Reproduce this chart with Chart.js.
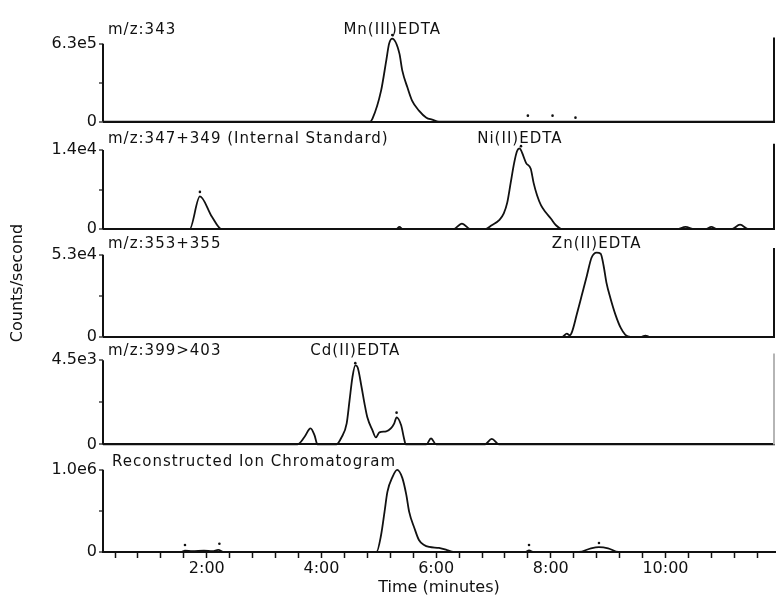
<!DOCTYPE html>
<html>
<head>
<meta charset="utf-8">
<title>Metal-EDTA ion chromatograms</title>
<script src="https://cdn.jsdelivr.net/npm/chart.js@4.4.1/dist/chart.umd.min.js"></script>
<style>
    html, body { margin: 0; padding: 0; background: #fff; }
    #wrap { width: 779px; height: 600px; }
</style>
</head>
<body>
<div id="wrap"><canvas id="chrom_canvas" width="779" height="600"></canvas></div>
<script>
// retention time (min) and intensity (counts/s) for each extracted ion trace
const mnTime = [0.19, 4.85, 4.89, 5.04, 5.13, 5.18, 5.235, 5.36, 5.41, 5.50, 5.58, 5.70, 5.83, 5.93, 6.05, 11.91]
const mnCounts = [0, 0, 2.4e4, 2.5e5, 4.93e5, 6.3e5, 6.7e5, 5.49e5, 4.12e5, 2.75e5, 1.7e5, 8.9e4, 3.2e4, 1.6e4, 0, 0]

const niTime = [0.19, 1.70, 1.88, 2.09, 2.26, 5.30, 5.36, 5.42, 6.30, 6.45, 6.60, 6.85, 6.97, 7.10, 7.18, 7.24, 7.30, 7.36, 7.41, 7.46, 7.50, 7.57, 7.65, 7.70, 7.76, 7.83, 7.91, 8.00, 8.09, 8.20, 10.20, 10.35, 10.50, 10.70, 10.80, 10.90, 11.15, 11.30, 11.45, 11.91]
const niCounts = [0, 0, 5.8e3, 2.2e3, 0, 0, 400, 0, 0, 1.0e3, 0, 0, 700, 1.6e3, 2.8e3, 4.7e3, 8.2e3, 1.17e4, 1.38e4, 1.43e4, 1.35e4, 1.17e4, 1.07e4, 8.2e3, 6.0e3, 4.2e3, 3.0e3, 1.9e3, 700, 0, 0, 400, 0, 0, 400, 0, 0, 800, 0, 0]

const znTime = [0.19, 8.20, 8.28, 8.33, 8.37, 8.45, 8.54, 8.63, 8.71, 8.80, 8.87, 8.92, 8.97, 9.04, 9.13, 9.22, 9.30, 9.39, 9.58, 9.65, 9.72, 11.91]
const znCounts = [0, 0, 2.0e3, 1.0e3, 3.2e3, 1.4e4, 2.68e4, 3.96e4, 5.1e4, 5.43e4, 5.36e4, 4.6e4, 3.5e4, 2.49e4, 1.4e4, 5.7e3, 1.3e3, 0, 0, 800, 0, 0]

const cdTime = [0.19, 3.58, 3.70, 3.81, 3.88, 3.93, 4.26, 4.35, 4.44, 4.49, 4.54, 4.59, 4.63, 4.70, 4.75, 4.80, 4.89, 4.95, 5.01, 5.13, 5.21, 5.27, 5.31, 5.39, 5.44, 5.47, 5.83, 5.91, 6.00, 6.85, 6.97, 7.10, 11.91]
const cdCounts = [0, 0, 380, 860, 480, 0, 0, 380, 1130, 2360, 3590, 4230, 4130, 3060, 2200, 1450, 750, 375, 640, 700, 860, 1130, 1450, 1020, 320, 0, 0, 320, 0, 0, 300, 0, 0]

const ricTime = [0.19, 1.55, 1.62, 1.75, 1.95, 2.10, 2.20, 2.30, 4.96, 5.04, 5.10, 5.15, 5.24, 5.32, 5.41, 5.48, 5.53, 5.62, 5.70, 5.79, 5.88, 6.05, 6.19, 6.30, 7.55, 7.62, 7.70, 8.49, 8.70, 8.84, 9.00, 9.18, 11.91]
const ricCounts = [0, 0, 1.5e4, 1.0e4, 1.5e4, 1.0e4, 2.5e4, 0, 0, 2.07e5, 4.88e5, 7.32e5, 9.15e5, 1.0e6, 9.02e5, 6.95e5, 4.88e5, 2.93e5, 1.46e5, 8.5e4, 6.1e4, 4.9e4, 2.4e4, 0, 0, 2.0e4, 0, 0, 4.5e4, 6.0e4, 4.5e4, 0, 0]

// apex markers put down by the acquisition software
const mnMarkTime = [5.235, 7.60, 8.03, 8.43]
const mnMarkCounts = [7.0e5, 4.8e4, 4.8e4, 3.2e4]
const niMarkTime = [1.88, 7.48]
const niMarkCounts = [6.6e3, 1.47e4]
const cdMarkTime = [4.59, 5.31]
const cdMarkCounts = [4.35e3, 1.7e3]
const ricMarkTime = [1.62, 2.22, 7.62, 8.84]
const ricMarkCounts = [8.5e4, 1.0e5, 8.5e4, 1.1e5]

const channelLabels = ['m/z:343', 'm/z:347+349 (Internal Standard)', 'm/z:353+355', 'm/z:399>403', 'Reconstructed Ion Chromatogram']
const fullScale = [6.3e5, 1.4e4, 5.3e4, 4.5e3, 1.0e6]
const fullScaleLabels = ['6.3e5', '1.4e4', '5.3e4', '4.5e3', '1.0e6']
const peakNames = ['Mn(III)EDTA', 'Ni(II)EDTA', 'Zn(II)EDTA', 'Cd(II)EDTA', '']
const peakTimes = [5.235, 7.46, 8.80, 4.59, null]

// room above the full-scale tick for the channel captions, and caption lift in px
const headroom = [1.38, 1.36, 1.31, 1.28, 1.31]
const captionLift = [10, 7, 7, 5, 4]

const minuteTicks = []
for (let k = 1; k <= 29; k++) minuteTicks.push(Math.round(k * 0.4 * 10) / 10)

const traces = [
    { time: mnTime, counts: mnCounts, markTime: mnMarkTime, markCounts: mnMarkCounts },
    { time: niTime, counts: niCounts, markTime: niMarkTime, markCounts: niMarkCounts },
    { time: znTime, counts: znCounts, markTime: [], markCounts: [] },
    { time: cdTime, counts: cdCounts, markTime: cdMarkTime, markCounts: cdMarkCounts },
    { time: ricTime, counts: ricCounts, markTime: ricMarkTime, markCounts: ricMarkCounts },
]

const INK = '#111'
Chart.defaults.font.family = '"DejaVu Sans", sans-serif'
Chart.defaults.font.size = 16
Chart.defaults.color = INK

const datasets = []
traces.forEach((tr, i) => {
    datasets.push({
        type: 'line',
        data: tr.time.map((t, j) => ({ x: t, y: tr.counts[j] })),
        yAxisID: 'y' + (i + 1),
        borderColor: INK, borderWidth: 1.8,
        pointRadius: 0, cubicInterpolationMode: 'monotone',
        clip: false
    })
    datasets.push({
        type: 'scatter',
        data: tr.markTime.map((t, j) => ({ x: t, y: tr.markCounts[j] })),
        yAxisID: 'y' + (i + 1),
        backgroundColor: INK, borderColor: INK,
        pointRadius: 1.3, pointBorderWidth: 0,
        clip: false
    })
})

const scales = {
    x: {
        type: 'linear', position: 'bottom', min: 0.19, max: 11.91,
        afterBuildTicks: s => { s.ticks = minuteTicks.map(v => ({ value: v })) },
        afterFit: s => { s.height = 48 },
        ticks: {
            autoSkip: false, maxRotation: 0, padding: 1,
            callback: v => Math.abs(v / 2 - Math.round(v / 2)) < 1e-6 ? Math.round(v) + ':00' : ''
        },
        grid: { drawOnChartArea: false, tickLength: 6, color: INK, tickWidth: 1.5 },
        border: { display: true, color: INK, width: 2 },
        title: { display: true, text: 'Time (minutes)', font: { size: 16 }, padding: { top: 0, bottom: 3 } }
    }
}

// stacked axes are laid out last-defined on top, so add the bottom panel first
for (let i = fullScale.length - 1; i >= 0; i--) {
    const top = fullScale[i]
    scales['y' + (i + 1)] = {
        type: 'linear', position: 'left', stack: 'panels', stackWeight: 1,
        min: 0, max: top * headroom[i],
        afterBuildTicks: s => { s.ticks = [0, 0.25, 0.5, 0.75, 1].map(f => ({ value: f * top })) },
        afterFit: s => { s.width = 103 },
        ticks: {
            padding: 2,
            callback: (v, idx) => idx === 0 ? '0' : (idx === 4 ? fullScaleLabels[i] : '')
        },
        grid: {
            color: c => (c.tick && c.tick.value === 0) ? INK : 'rgba(0,0,0,0)',
            lineWidth: 2, tickColor: INK, tickWidth: 1.2, tickLength: 4
        },
        border: { display: false },
        title: {
            display: i === 2, text: 'Counts/second', font: { size: 16 },
            padding: { top: 8, bottom: 0 }
        }
    }
}

// left axis stubs, right frame lines and the channel / peak captions
const panelDecor = {
    id: 'panelDecor',
    afterDraw(chart) {
        const ctx = chart.ctx
        const area = chart.chartArea
        const xs = chart.scales.x
        ctx.save()
        for (let i = 0; i < fullScale.length; i++) {
            const ys = chart.scales['y' + (i + 1)]
            const y0 = ys.getPixelForValue(0)
            const yTop = ys.getPixelForValue(fullScale[i])

            ctx.strokeStyle = INK
            ctx.lineWidth = 2
            ctx.beginPath()
            ctx.moveTo(area.left, y0)
            ctx.lineTo(area.left, yTop)
            ctx.stroke()

            if (i < 4) {
                ctx.strokeStyle = i === 3 ? '#b5b5b5' : INK
                ctx.beginPath()
                ctx.moveTo(area.right - 1, y0)
                ctx.lineTo(area.right - 1, ys.getPixelForValue(fullScale[i] * 1.08))
                ctx.stroke()
            }

            const captionY = yTop - captionLift[i]
            ctx.fillStyle = INK
            ctx.font = '15px "DejaVu Sans"'
            ctx.letterSpacing = '1px'
            ctx.textBaseline = 'alphabetic'
            ctx.textAlign = 'left'
            ctx.fillText(channelLabels[i], area.left + (i === 4 ? 9 : 5), captionY)
            if (peakNames[i]) {
                ctx.textAlign = 'center'
                ctx.fillText(peakNames[i], xs.getPixelForValue(peakTimes[i]), captionY)
            }
        }
        ctx.restore()
    }
}

const chart_chrom = new Chart(document.getElementById('chrom_canvas').getContext('2d'), {
    type: 'line',
    data: { datasets },
    options: {
        responsive: false, animation: false,
        layout: { padding: { top: 14, right: 2, left: 0, bottom: 0 } },
        plugins: { legend: { display: false }, tooltip: { enabled: false } },
        scales
    },
    plugins: [panelDecor]
})
</script>
</body>
</html>
